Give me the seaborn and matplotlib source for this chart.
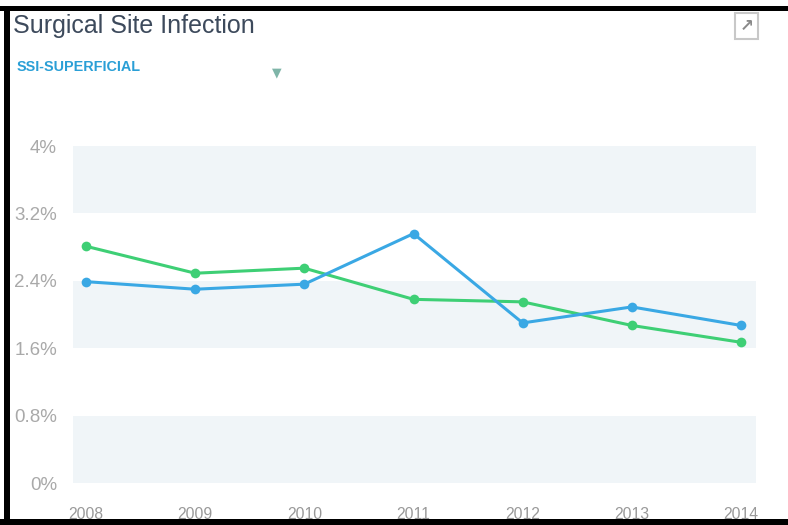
import matplotlib
matplotlib.use("Agg")
import matplotlib.pyplot as plt
import matplotlib.patches as mpatches
import seaborn as sns
import pandas as pd

years = [2008, 2009, 2010, 2011, 2012, 2013, 2014]
series_green = [2.81, 2.49, 2.55, 2.18, 2.15, 1.87, 1.67]
series_blue = [2.39, 2.30, 2.36, 2.96, 1.90, 2.09, 1.87]
y_ticks = [0, 0.8, 1.6, 2.4, 3.2, 4.0]
y_tick_labels = ["0%", "0.8%", "1.6%", "2.4%", "3.2%", "4%"]

df = pd.DataFrame({
    "year": years * 2,
    "value": series_green + series_blue,
    "series": ["green"] * len(years) + ["blue"] * len(years),
})

sns.set_style("white")
plt.rcParams["font.family"] = ["Liberation Sans", "DejaVu Sans"]

fig = plt.figure(figsize=(7.88, 5.25), dpi=100)
ax = fig.add_axes([73 / 788, 1 - 483 / 525, (756 - 73) / 788, (483 - 146) / 525])

for lo in [0, 1.6, 3.2]:
    ax.axhspan(lo, lo + 0.8, color="#f0f5f8", zorder=0, lw=0)

palette = {"green": "#3ecf75", "blue": "#3aa8e4"}
sns.lineplot(data=df, x="year", y="value", hue="series", palette=palette,
             marker="o", markersize=7, markeredgewidth=0, linewidth=2.2,
             legend=False, ax=ax, zorder=3)

ax.set_xlim(2008 - 13 / 109.2, 2014 + 15 / 109.2)
ax.set_ylim(0, 4)
ax.set_yticks(y_ticks)
ax.set_yticklabels(y_tick_labels)
ax.set_xticks(years)
ax.set_xticklabels([str(y) for y in years])
ax.tick_params(axis="y", length=0, pad=11.5, labelsize=13.5, labelcolor="#a9a9a9")
ax.tick_params(axis="x", length=0, pad=17, labelsize=11.3, labelcolor="#999999")
ax.set_xlabel("")
ax.set_ylabel("")
for s in ax.spines.values():
    s.set_visible(False)
ax.grid(False)

# Title and subtitle
fig.text(13 / 788, 1 - 26 / 525, "Surgical Site Infection", fontsize=18,
         color="#3d4a5c", ha="left", va="center")
fig.text(17 / 788, 1 - 67 / 525, "SSI-SUPERFICIAL", fontsize=10.4, fontweight="bold",
         color="#2a9fd6", ha="left", va="center")
fig.text(277 / 788, 1 - 73 / 525, "\u25BC", fontsize=9, color="#7fb5a8",
         ha="center", va="center", family="DejaVu Sans")

# Expand icon
fig.patches.append(mpatches.Rectangle((735 / 788, 1 - 39 / 525), 23 / 788, 26 / 525,
                                      transform=fig.transFigure, fill=False,
                                      edgecolor="#c8c8c8", lw=1.5))
fig.text(746.5 / 788, 1 - 26 / 525, "\u2197", fontsize=12, color="#8a8a8a",
         ha="center", va="center", family="DejaVu Sans", fontweight="bold")

# Black frame edges
fig.patches.append(mpatches.Rectangle((0, 1 - 11 / 525), 1, 5 / 525,
                                      transform=fig.transFigure, color="black", lw=0))
fig.patches.append(mpatches.Rectangle((4 / 788, 0), 6 / 788, 1 - 6 / 525,
                                      transform=fig.transFigure, color="black", lw=0))
fig.patches.append(mpatches.Rectangle((0, 0), 1, 6 / 525,
                                      transform=fig.transFigure, color="black", lw=0))

fig.savefig("out.png", dpi=100)
